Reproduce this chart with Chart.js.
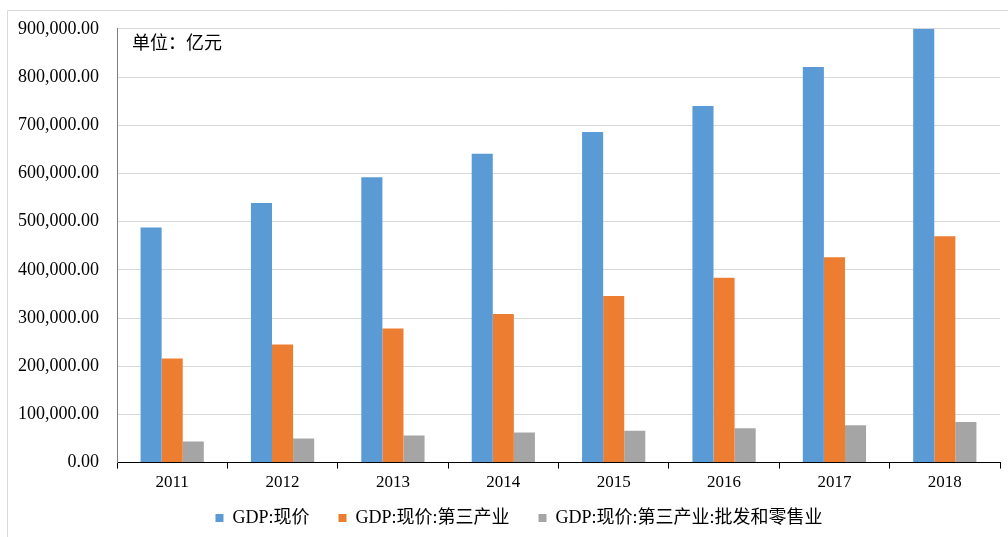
<!DOCTYPE html>
<html>
<head>
<meta charset="utf-8">
<script src="https://cdn.jsdelivr.net/npm/chart.js@4/dist/chart.umd.min.js"></script>
<style>
 html,body{margin:0;padding:0;background:#fff;}
 #wrap{position:relative;width:1008px;height:537px;}
</style>
</head>
<body>
<div id="wrap"><canvas id="gdpChart" width="1008" height="537"></canvas></div>
<script>
// 数据 (亿元)
const years = ["2011","2012","2013","2014","2015","2016","2017","2018"];
const gdp = [487940, 538580, 592000, 641000, 685990, 740060, 820750, 900310];
const tertiary = [216100, 244850, 277960, 308060, 345790, 383370, 425910, 469580];
const wholesale = [43730, 49830, 56280, 62420, 66190, 71290, 77660, 84200];
const seriesNames = ["GDP:现价", "GDP:现价:第三产业", "GDP:现价:第三产业:批发和零售业"];
const colors = ["#5b9bd5", "#ed7d31", "#a5a5a5"];

const fontFam = "'Liberation Serif','Noto Sans CJK SC',serif";

const framePlugin = {
  id: 'frame',
  beforeDraw(c){
    const g=c.ctx;
    g.save();
    g.strokeStyle="#d9d9d9";
    g.lineWidth=1;
    g.beginPath();
    g.moveTo(7.5,537);g.lineTo(7.5,10.5);g.lineTo(1008,10.5);
    g.stroke();
    g.restore();
  },
  afterDraw(c){
    const g=c.ctx, a=c.chartArea;
    g.save();
    g.fillStyle="#000";
    g.font="18px 'Noto Sans CJK SC',sans-serif";
    g.textBaseline="middle";
    g.fillText("单位：亿元", a.left+15, a.top+13);
    g.restore();
  }
};

// legend sits closer to the axis than chart.js would put it
const legendShift = {
  id: 'legendShift',
  afterInit(c){
    const lg=c.legend;
    if(!lg) return;
    const fit=lg.fit.bind(lg);
    lg.fit=function(){ fit(); this.height-=17; };
    lg.draw=function(){
      if(!this.options.display) return;
      const g=this.ctx;
      g.save(); g.translate(19,-17); this._draw(); g.restore();
    };
  }
};

const ctx = document.getElementById('gdpChart').getContext('2d');
new Chart(ctx, {
  type: 'bar',
  data: {
    labels: years,
    datasets: [
      {label: seriesNames[0], data: gdp, backgroundColor: colors[0]},
      {label: seriesNames[1], data: tertiary, backgroundColor: colors[1]},
      {label: seriesNames[2], data: wholesale, backgroundColor: colors[2]}
    ]
  },
  options: {
    responsive: false,
    animation: false,
    layout: {padding: {top: 19, right: 8, left: 0, bottom: 0}},
    datasets: {bar: {barPercentage: 1, categoryPercentage: 0.573}},
    plugins: {
      legend: {
        position: 'bottom',
        labels: {
          boxWidth: 8, boxHeight: 8, padding: 29, color: '#000',
          font: {family: fontFam, size: 18}
        }
      },
      tooltip: {enabled: false}
    },
    scales: {
      x: {
        grid: {display: true, drawOnChartArea: false, drawTicks: true, tickLength: 6, color: '#000', offset: true},
        border: {color: '#000', width: 1},
        ticks: {color: '#000', font: {family: fontFam, size: 17}, padding: 4}
      },
      y: {
        min: 0, max: 900000,
        grid: {color: '#d9d9d9', tickLength: 0},
        border: {color: '#7f7f7f', width: 1},
        ticks: {
          stepSize: 100000, color: '#000', padding: 18,
          font: {family: fontFam, size: 18},
          callback: v => v.toLocaleString('en-US', {minimumFractionDigits: 2, maximumFractionDigits: 2})
        }
      }
    }
  },
  plugins: [framePlugin, legendShift]
});
</script>
</body>
</html>
